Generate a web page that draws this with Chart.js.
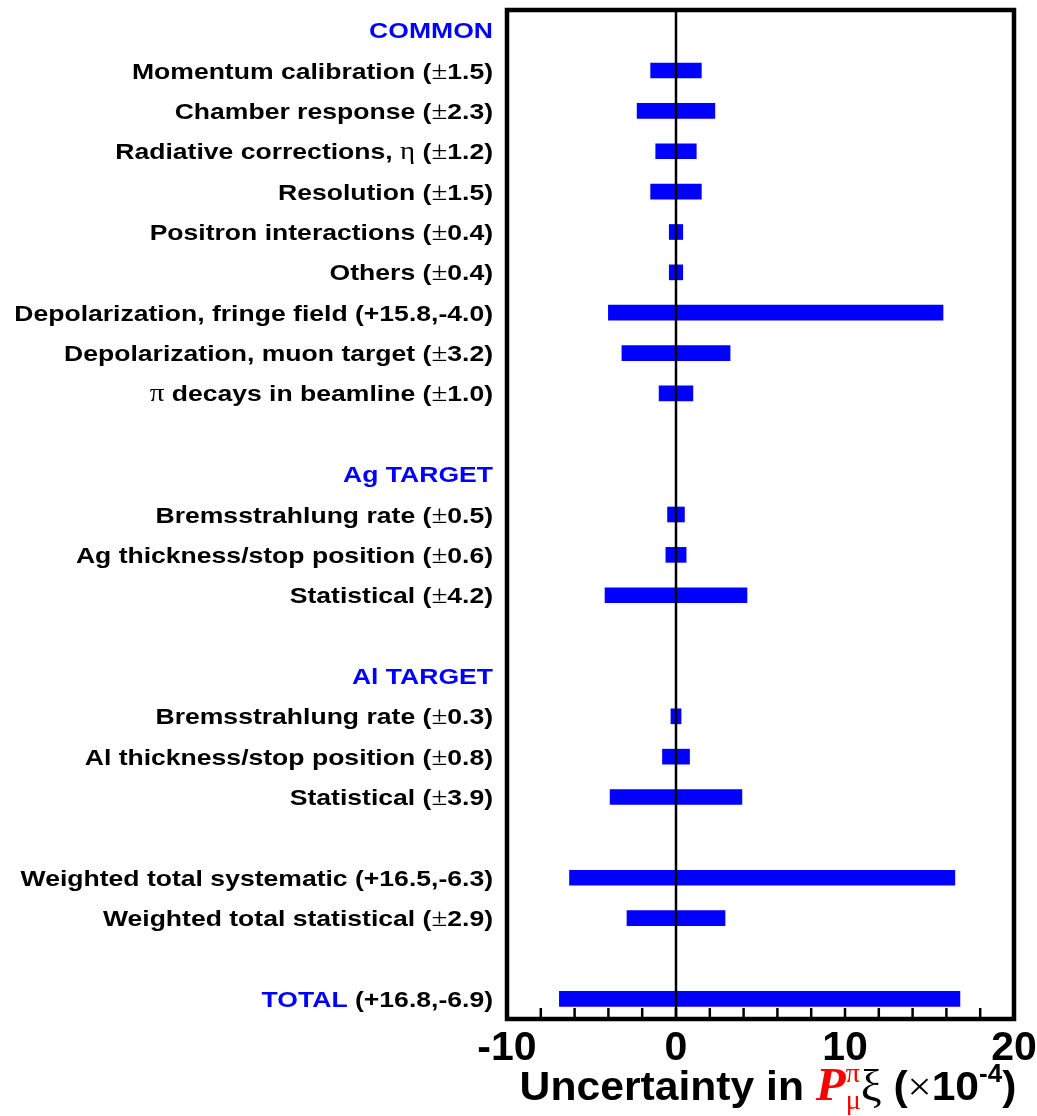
<!DOCTYPE html>
<html>
<head>
<meta charset="utf-8">
<script src="https://cdn.jsdelivr.net/npm/chart.js@4.4.1/dist/chart.umd.min.js"></script>
<style>
  html, body { margin: 0; padding: 0; background: #fff; }
  #wrap { width: 1037px; height: 1116px; }
</style>
</head>
<body>
<div id="wrap"><canvas id="uncert-chart"></canvas></div>
<script>
// Rows top to bottom, '' is an empty spacer row
const rowNames = [
  'COMMON',
  'Momentum calibration',
  'Chamber response',
  'Radiative corrections, η',
  'Resolution',
  'Positron interactions',
  'Others',
  'Depolarization, fringe field',
  'Depolarization, muon target',
  'π decays in beamline',
  '',
  'Ag TARGET',
  'Bremsstrahlung rate',
  'Ag thickness/stop position',
  'Statistical',
  '',
  'Al TARGET',
  'Bremsstrahlung rate',
  'Al thickness/stop position',
  'Statistical',
  '',
  'Weighted total systematic',
  'Weighted total statistical',
  '',
  'TOTAL',
];
// section headings, drawn in blue
const headingRows = [0, 11, 16, 24];

// uncertainties in units of 1e-4
const plusErr = [null, 1.5, 2.3, 1.2, 1.5, 0.4, 0.4, 15.8, 3.2, 1.0, null,
  null, 0.5, 0.6, 4.2, null,
  null, 0.3, 0.8, 3.9, null,
  16.5, 2.9, null, 16.8];
const minusErr = [null, 1.5, 2.3, 1.2, 1.5, 0.4, 0.4, 4.0, 3.2, 1.0, null,
  null, 0.5, 0.6, 4.2, null,
  null, 0.3, 0.8, 3.9, null,
  6.3, 2.9, null, 6.9];

const xTickLabels = [-10, 0, 10, 20];

const SANS = '"Liberation Sans", Arial, sans-serif';
const SERIF = '"Liberation Serif", "Times New Roman", serif';
const BLUE = '#0000ff';

const barData = rowNames.map((_, i) => (plusErr[i] == null ? null : [-minusErr[i], plusErr[i]]));

// split a string into runs: greek letters and ± in a plain serif face, the rest bold sans
function textRuns(str, color, size) {
  const runs = [];
  for (const ch of str) {
    const serif = 'πη±'.includes(ch);
    const font = serif ? `${size + 2}px ${SERIF}` : `bold ${size}px ${SANS}`;
    const last = runs[runs.length - 1];
    if (last && last.font === font && last.color === color) last.text += ch;
    else runs.push({ text: ch, font, color });
  }
  return runs;
}

function rowRuns(i) {
  const size = 22.5;
  const color = headingRows.includes(i) ? BLUE : '#000';
  let runs = textRuns(rowNames[i], color, size);
  if (plusErr[i] != null) {
    const p = plusErr[i].toFixed(1);
    const m = minusErr[i].toFixed(1);
    const suffix = p === m ? ` (±${p})` : ` (+${p},-${m})`;
    runs = runs.concat(textRuns(suffix, '#000', size));
  }
  return runs;
}

// draw runs right aligned (or centered) at x0, stretched horizontally by sx
function drawRuns(ctx, runs, x0, baseline, sx, align) {
  let w = 0;
  runs.forEach((r) => {
    ctx.font = r.font;
    if (!r.stack) w += ctx.measureText(r.text).width;
  });
  ctx.save();
  ctx.translate(x0, baseline);
  ctx.scale(sx, 1);
  ctx.textBaseline = 'alphabetic';
  ctx.textAlign = 'left';
  let x = align === 'center' ? -w / 2 : -w;
  runs.forEach((r) => {
    ctx.font = r.font;
    ctx.fillStyle = r.color;
    ctx.fillText(r.text, x, r.dy || 0);
    if (!r.stack) x += ctx.measureText(r.text).width;
  });
  ctx.restore();
}

const axisTitleRuns = [
  { text: 'Uncertainty in ', font: `bold 41px ${SANS}`, color: '#000' },
  { text: 'P', font: `italic bold 47px ${SERIF}`, color: '#ff0000' },
  { text: 'π', font: `27px ${SERIF}`, color: '#ff0000', dy: -18, stack: true },
  { text: 'μ', font: `27px ${SERIF}`, color: '#ff0000', dy: 9 },
  { text: 'ξ', font: `45px ${SERIF}`, color: '#000' },
  { text: ' (', font: `bold 41px ${SANS}`, color: '#000' },
  { text: '×', font: `41px ${SERIF}`, color: '#000' },
  { text: '10', font: `bold 41px ${SANS}`, color: '#000' },
  { text: '-4', font: `bold 25px ${SANS}`, color: '#000', dy: -18 },
  { text: ')', font: `bold 41px ${SANS}`, color: '#000' },
];

// frame, inward ticks, zero line, row labels and axis title
const decorPlugin = {
  id: 'decor',
  afterDatasetsDraw(c) {
    const { ctx, chartArea: a } = c;
    const xs = c.scales.x;
    ctx.save();
    ctx.strokeStyle = '#000';
    // zero line
    const x0 = xs.getPixelForValue(0);
    ctx.lineWidth = 2.5;
    ctx.beginPath();
    ctx.moveTo(x0, a.top);
    ctx.lineTo(x0, a.bottom);
    ctx.stroke();
    // tick marks pointing into the plot
    xs.ticks.forEach((t) => {
      const px = xs.getPixelForValue(t.value);
      ctx.beginPath();
      ctx.moveTo(px, a.bottom);
      ctx.lineTo(px, a.bottom - 11);
      ctx.stroke();
    });
    // frame
    ctx.lineWidth = 4.5;
    ctx.strokeRect(a.left, a.top, a.right - a.left, a.bottom - a.top);
    ctx.restore();
  },
  afterDraw(c) {
    const { ctx, chartArea: a } = c;
    const ys = c.scales.y;
    rowNames.forEach((name, i) => {
      if (!name) return;
      const y = ys.getPixelForValue(i);
      drawRuns(ctx, rowRuns(i), a.left - 14, y + 8, 1.18, 'right');
    });
    drawRuns(ctx, axisTitleRuns, 768, 1100, 1.04, 'center');
  },
};

const ctx = document.getElementById('uncert-chart');
new Chart(ctx, {
  type: 'bar',
  data: {
    labels: rowNames,
    datasets: [{
      data: barData,
      backgroundColor: BLUE,
      borderWidth: 0,
      borderSkipped: false,
      barThickness: 15,
    }],
  },
  options: {
    indexAxis: 'y',
    responsive: true,
    maintainAspectRatio: false,
    animation: false,
    layout: {
      padding: { left: 507, right: 23, top: 10, bottom: 0 },
    },
    scales: {
      x: {
        min: -10,
        max: 20,
        grid: { display: false },
        border: { display: false },
        ticks: {
          stepSize: 2,
          autoSkip: false,
          maxRotation: 0,
          padding: -3,
          color: '#000',
          font: { family: SANS, weight: 'bold', size: 41 },
          callback: (v) => (xTickLabels.includes(v) ? String(v) : ''),
        },
        afterFit: (s) => {
          s.height = 97;
          s.paddingLeft = 0;
          s.paddingRight = 0;
        },
      },
      y: {
        display: false,
        offset: true,
      },
    },
    plugins: {
      legend: { display: false },
      tooltip: { enabled: false },
    },
  },
  plugins: [decorPlugin],
});
</script>
</body>
</html>
